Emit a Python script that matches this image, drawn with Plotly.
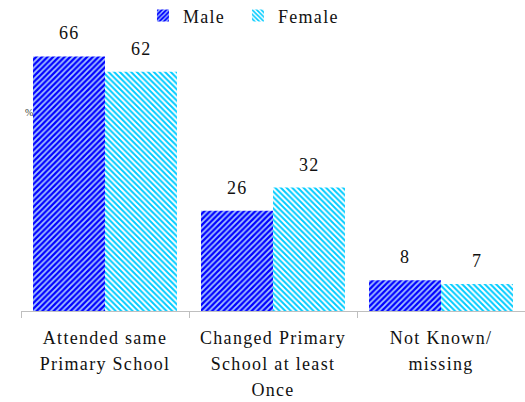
import plotly.graph_objects as go

categories = ["Attended same<br>Primary School", "Changed Primary<br>School at least<br>Once", "Not Known/<br>missing"]
male = [66, 26, 8]
female = [62, 32, 7]
series_names = ["Male", "Female"]

FONT = "Liberation Serif"
SP = "letter-spacing:1.3px;font-size:18px"


def spaced(t):
    return "<br>".join(f"<span style='{SP}'>{p}</span>" for p in t.split("<br>"))


fig = go.Figure()
fig.add_trace(go.Bar(
    x=categories, y=male, name=spaced(series_names[0]), legend="legend",
    marker=dict(color="#0000FF", line=dict(width=0),
                pattern=dict(shape="/", fillmode="replace", bgcolor="#0000FF",
                             fgcolor="#A8C4FF", size=4, solidity=0.45)),
))
fig.add_trace(go.Bar(
    x=categories, y=female, name=spaced(series_names[1]), legend="legend2",
    marker=dict(color="#00CCFF", line=dict(width=0),
                pattern=dict(shape="\\", fillmode="replace", bgcolor="#FFFFFF",
                             fgcolor="#00CCFF", size=4, solidity=0.5)),
))

annotations = []
for vals, shift in ((male, -36), (female, 36)):
    for c, v in zip(categories, vals):
        annotations.append(dict(x=c, y=v, xref="x", yref="y", text=spaced(str(v)),
                                showarrow=False, xshift=shift, yanchor="bottom", yshift=11,
                                font=dict(family=FONT, size=18, color="#111111")))
annotations.append(dict(x=0.003, y=0.763, xref="paper", yref="paper", text="%",
                        showarrow=False, font=dict(family=FONT, size=10, color="#333333")))

legend_common = dict(orientation="h", xanchor="left", y=1.093, yanchor="middle",
                     yref="paper", font=dict(family=FONT, size=18),
                     itemwidth=30, bgcolor="rgba(0,0,0,0)")

fig.update_layout(
    template="none",
    width=525, height=402,
    margin=dict(l=21, r=0, t=41, b=91, autoexpand=False),
    paper_bgcolor="white", plot_bgcolor="white",
    barmode="group", bargap=0.143, bargroupgap=0,
    font=dict(family=FONT, size=18, color="#111111"),
    showlegend=True,
    legend=dict(x=0.242, **legend_common),
    legend2=dict(x=0.4305, **legend_common),
    annotations=annotations,
)
fig.update_xaxes(tickmode="array", tickvals=categories, ticktext=[spaced(c) for c in categories],
                 showline=True, linecolor="#BFBFBF", linewidth=1, ticks="outside",
                 tickson="boundaries", ticklen=6, tickcolor="#BFBFBF", automargin=False,
                 ticklabelstandoff=8,
                 tickfont=dict(family=FONT, size=20, color="#111111"), showgrid=False)
fig.update_yaxes(range=[0, 70], showticklabels=False, showgrid=False, zeroline=False,
                 showline=False, ticks="", automargin=False)

fig.write_html("out.html", config={"displayModeBar": False},
               post_script="document.body.style.margin='0';")
